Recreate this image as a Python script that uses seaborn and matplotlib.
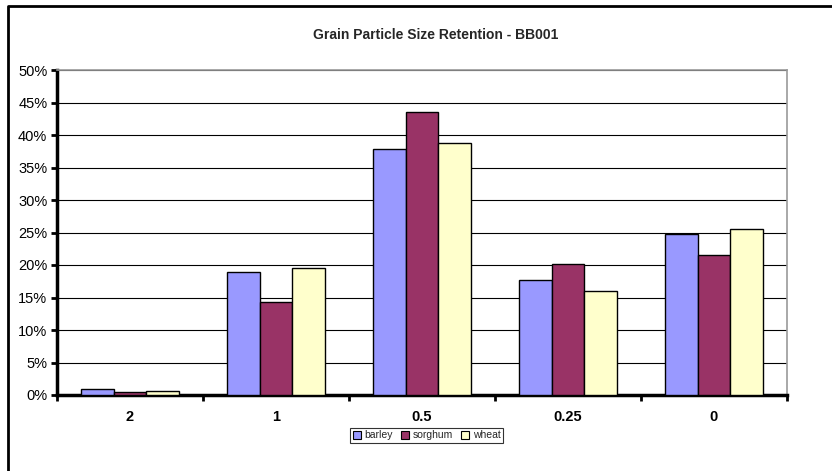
import matplotlib
matplotlib.use("Agg")
import matplotlib.pyplot as plt
from matplotlib.lines import Line2D
from matplotlib.ticker import PercentFormatter, FixedLocator
import seaborn as sns
import pandas as pd

# Sieve sizes (mm) and the share of sample retained on each
sizes = ["2", "1", "0.5", "0.25", "0"]
barley = [1.0, 19.0, 37.8, 17.7, 24.7]
sorghum = [0.5, 14.3, 43.5, 20.2, 21.5]
wheat = [0.6, 19.5, 38.7, 16.0, 25.5]
grains = ["barley", "sorghum", "wheat"]
colors = ["#9999FF", "#993366", "#FFFFCC"]

df = pd.DataFrame({
    "size": sizes * 3,
    "grain": [g for g in grains for _ in sizes],
    "retained": barley + sorghum + wheat,
})

sns.set_theme(style="white")
plt.rcParams["font.family"] = ["Liberation Sans", "DejaVu Sans"]

fig = plt.figure(figsize=(8.32, 4.71), dpi=100)
ax = fig.add_axes([57 / 832, 76 / 471, 730 / 832, 325 / 471])

sns.barplot(data=df, x="size", y="retained", hue="grain", order=sizes,
            hue_order=grains, palette=colors, width=0.667, gap=0,
            edgecolor="black", linewidth=1, saturation=1, ax=ax, zorder=3)

ax.set_ylim(0, 50)
ax.set_xlim(-0.5, 4.5)
ax.yaxis.set_major_locator(FixedLocator(list(range(0, 51, 5))))
ax.yaxis.set_major_formatter(PercentFormatter(decimals=0))
ax.yaxis.grid(True, color="black", linewidth=0.8, zorder=0)
ax.set_axisbelow(True)
ax.set_xlabel("")
ax.set_ylabel("")

ax.tick_params(axis="y", which="major", left=True, length=4, width=2,
               color="black", labelsize=10.5, pad=3, labelcolor="black")
ax.tick_params(axis="x", which="major", length=0, labelsize=10.5, pad=11,
               labelcolor="black")
for lbl in ax.get_xticklabels():
    lbl.set_fontweight("bold")
ax.xaxis.set_minor_locator(FixedLocator([i - 0.5 for i in range(6)]))
ax.tick_params(axis="x", which="minor", bottom=True, length=4, width=2,
               color="black")

for side in ("left", "bottom"):
    ax.spines[side].set_color("black")
    ax.spines[side].set_linewidth(2.5)
for side in ("top", "right"):
    ax.spines[side].set_color("#999999")
    ax.spines[side].set_linewidth(1.2)

leg = ax.legend(loc="center", bbox_to_anchor=(426.5 / 832, 1 - 435.5 / 471),
                bbox_transform=fig.transFigure, ncol=3, fontsize=7.5,
                frameon=True, fancybox=False, edgecolor="black",
                handlelength=0.8, handleheight=0.8, handletextpad=0.3,
                columnspacing=0.8, borderpad=0.25, borderaxespad=0)
leg.get_frame().set_linewidth(0.8)
for h in leg.legend_handles:
    h.set_edgecolor("black")
    h.set_linewidth(0.8)

fig.text(436 / 832, 1 - 35 / 471, "Grain Particle Size Retention - BB001",
         ha="center", va="center", fontsize=10, fontweight="bold")

# Chart frame: left and top edges
fig.add_artist(Line2D([8 / 832, 8 / 832, 1.0], [0.0, 1 - 6 / 471, 1 - 6 / 471],
                      transform=fig.transFigure, color="black", linewidth=2))

fig.savefig("out.png", dpi=100)
